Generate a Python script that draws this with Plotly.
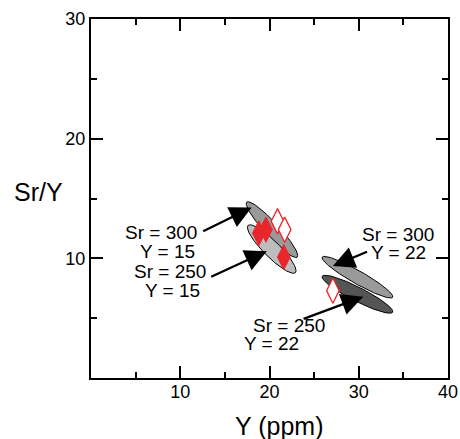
import numpy as np
import plotly.graph_objects as go

# ---------------- data ----------------
# Ellipse fields: tips (x1, y1) -> (x2, y2) in data units, half-width in px
ell_names = ["Sr300_Y15", "Sr250_Y15", "Sr250_Y22", "Sr300_Y22"]
ell_x1 = [17.45, 17.6, 25.9, 25.9]
ell_y1 = [14.7, 12.75, 8.5, 10.1]
ell_x2 = [23.1, 22.9, 33.8, 33.8]
ell_y2 = [10.1, 8.8, 5.5, 6.75]
ell_hw = [7.0, 8.0, 7.0, 6.5]
ell_fill = ["#999999", "#bdbdbd", "#555555", "#9a9a9a"]

# Samples
filled_x = [18.8, 19.6, 21.6]
filled_y = [12.1, 12.4, 10.1]
open_x = [20.9, 21.7, 27.1]
open_y = [13.1, 12.4, 7.3]

# arrows: tail -> tip (data units)
arr_tail_x = [12.4, 13.3, 31.1, 23.65]
arr_tail_y = [12.2, 8.4, 10.6, 4.9]
arr_tip_x = [18.0, 19.7, 27.1, 30.5]
arr_tip_y = [14.25, 10.6, 9.35, 6.8]

label_text = ["Sr = 300", "Y = 15", "Sr = 250", "Y = 15",
              "Sr = 300", "Y = 22", "Sr = 250", "Y = 22"]

x_ticks = [10, 20, 30, 40]
y_ticks = [10, 20, 30]

# ---------------- layout geometry ----------------
W, H = 460, 439
ml, mr, mt, mb = 91, 12, 19, 61
xr = [0, 40]
yr = [0, 30]
PW, PH = W - ml - mr, H - mt - mb
sx = PW / (xr[1] - xr[0])
sy = PH / (yr[1] - yr[0])
P_LEFT, P_BOTTOM = ml, H - mb   # plot area in page pixels


def page_to_data(px, py):
    return xr[0] + (px - P_LEFT) / sx, yr[0] + (P_BOTTOM - py) / sy


def ellipse(x1, y1, x2, y2, hw, n=120):
    X1, Y1, X2, Y2 = x1 * sx, y1 * sy, x2 * sx, y2 * sy
    cx, cy = (X1 + X2) / 2, (Y1 + Y2) / 2
    L = np.hypot(X2 - X1, Y2 - Y1) / 2
    a = np.arctan2(Y2 - Y1, X2 - X1)
    t = np.linspace(0, 2 * np.pi, n)
    u = L * np.cos(t)
    v = hw * np.sin(t)
    X = cx + u * np.cos(a) - v * np.sin(a)
    Y = cy + u * np.sin(a) + v * np.cos(a)
    return X / sx, Y / sy


fig = go.Figure()

for i in range(len(ell_names)):
    ex, ey = ellipse(ell_x1[i], ell_y1[i], ell_x2[i], ell_y2[i], ell_hw[i])
    fig.add_trace(go.Scatter(x=ex, y=ey, mode="lines", fill="toself",
                             fillcolor=ell_fill[i],
                             line=dict(color="black", width=1),
                             hoverinfo="skip", showlegend=False))

fig.add_trace(go.Scatter(x=open_x, y=open_y, mode="markers", showlegend=False,
                         marker=dict(symbol="diamond-tall", size=18, color="white",
                                     line=dict(color="#e8262b", width=1.3))))
fig.add_trace(go.Scatter(x=filled_x, y=filled_y, mode="markers", showlegend=False,
                         marker=dict(symbol="diamond-tall", size=18, color="#e8262b",
                                     line=dict(color="#e8262b", width=1))))

FONT = "Liberation Sans, Arial, sans-serif"
font_ann = dict(family=FONT, size=19, color="black")

for i in range(len(arr_tip_x)):
    fig.add_annotation(x=arr_tip_x[i], y=arr_tip_y[i], ax=arr_tail_x[i], ay=arr_tail_y[i],
                       xref="x", yref="y", axref="x", ayref="y", text="",
                       showarrow=True, arrowhead=2, arrowsize=1.9, arrowwidth=2.3,
                       arrowcolor="black", standoff=0, startstandoff=0)

label_px = [161, 167, 170, 172, 398, 398, 289, 271]
label_py = [232, 251, 271, 290, 234, 252, 325, 343]
for txt, px, py in zip(label_text, label_px, label_py):
    lx, ly = page_to_data(px, py)
    fig.add_annotation(x=lx, y=ly, xref="x", yref="y",
                       text=txt, showarrow=False, font=font_ann,
                       xanchor="center", yanchor="middle")

fig.add_annotation(x=(38 - P_LEFT) / PW, y=(P_BOTTOM - 192) / PH, xref="paper", yref="paper",
                   text="Sr/Y", showarrow=False,
                   font=dict(family=FONT, size=25, color="black"),
                   xanchor="center", yanchor="middle")
fig.add_annotation(x=(279 - P_LEFT) / PW, y=(P_BOTTOM - 426) / PH,
                   xref="paper", yref="paper",
                   text="Y (ppm)", showarrow=False,
                   font=dict(family=FONT, size=25, color="black"),
                   xanchor="center", yanchor="middle")

axis_common = dict(showgrid=False, zeroline=False, showline=True, linecolor="black",
                   linewidth=2, mirror="ticks", ticks="inside", ticklen=12, tickwidth=2,
                   tickcolor="black", automargin=False,
                   tickfont=dict(family=FONT, size=18, color="black"),
                   minor=dict(ticks="inside", ticklen=6, tickwidth=2, tickcolor="black", dtick=5,
                              showgrid=False))

fig.update_xaxes(range=xr, tickvals=x_ticks, ticklabelstandoff=-4, **axis_common)
fig.update_yaxes(range=yr, tickvals=y_ticks, **axis_common)

fig.update_layout(width=W, height=H, autosize=False, margin=dict(l=ml, r=mr, t=mt, b=mb),
                  plot_bgcolor="white", paper_bgcolor="white", showlegend=False)

fig.write_html("out.html",
               config={"displayModeBar": False, "responsive": False},
               post_script="document.body.style.margin='0';document.body.style.overflow='hidden';")
